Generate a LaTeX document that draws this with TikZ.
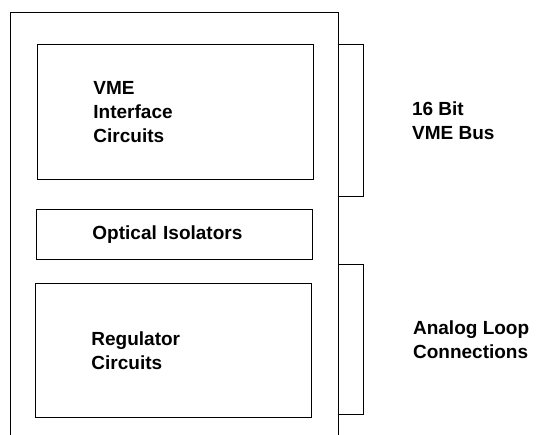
\documentclass[tikz,border=0pt]{standalone}
\usepackage{fontspec}
\setmainfont{Liberation Sans}
\usetikzlibrary{positioning}

\begin{document}
\begin{tikzpicture}[x=1pt, y=-1pt,
  block/.style={draw, line width=0.9pt, inner xsep=56pt, inner ysep=0pt, text width=164pt, align=left, font=\bfseries\fontsize{19}{24}\selectfont},
  plug/.style={draw, line width=0.9pt, minimum width=25pt, inner sep=0pt},
  tag/.style={inner sep=0pt, align=left, font=\bfseries\fontsize{19}{24}\selectfont}]

\useasboundingbox (0,0) rectangle (536,435);

% board outline, open at the bottom

\draw[line width=0.9pt] (10,435) -- (10,12) -- (338,12) -- (338,435);

% circuit blocks

\node[block, minimum height=135pt, anchor=north west] (vme) at (37,44) {VME\\Interface\\Circuits};
\node[block, minimum height=50pt, anchor=north west] (opto) at (36,209) {Optical Isolators};
\node[block, minimum height=134pt, anchor=north west] (reg) at (35,283) {Regulator\\Circuits};

% edge connectors

\node[plug, minimum height=152pt, anchor=north west] (bus) at (338,44) {};
\node[plug, minimum height=150pt, anchor=north west] (loop) at (337.5,264) {};

\node[tag, right=48pt of bus] (buslabel) {16 Bit\\VME Bus};
\node[tag, right=49.5pt of loop] (looplabel) {Analog Loop\\Connections};

\end{tikzpicture}
\end{document}
